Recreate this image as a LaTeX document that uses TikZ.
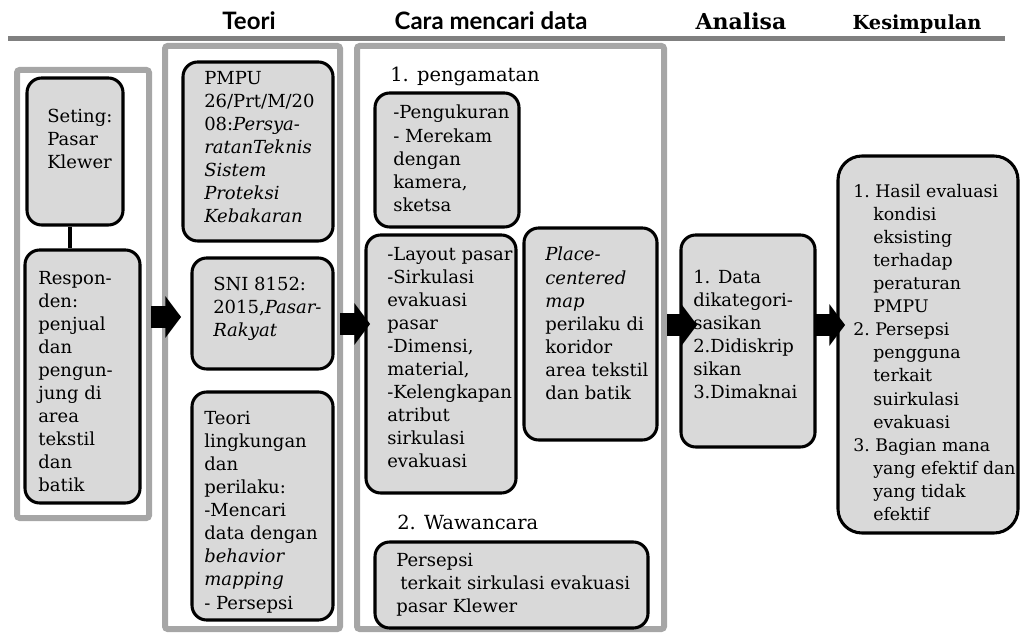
\documentclass[tikz,border=0pt]{standalone}
\usepackage{fontspec}
\setmainfont{DejaVu Serif}
\newfontfamily\headfont{Lato}
\usetikzlibrary{fit,shapes.arrows}

\definecolor{boxgray}{HTML}{D9D9D9}
\definecolor{panelgray}{HTML}{A6A6A6}
\definecolor{rulegray}{HTML}{808080}

\tikzset{
  panel/.style={draw=panelgray, line width=4.5pt, rounded corners=2pt, inner sep=0pt},
  box/.style={draw, fill=boxgray, line width=2.3pt, rounded corners=11pt, inner sep=0pt},
  txt/.style={anchor=north west, align=left, inner sep=0pt,
    font=\fontsize{13.5}{17.3}\selectfont},
  steptitle/.style={txt, font=\fontsize{14.6}{17.3}\selectfont},
  headsans/.style={anchor=base, inner sep=0pt, font=\headfont\bfseries\fontsize{18}{20}\selectfont},
  headserif/.style={anchor=base, inner sep=0pt, font=\bfseries\fontsize{#1}{20}\selectfont},
  bigarrow/.style={single arrow, fill=black, draw=none, inner xsep=0pt, inner ysep=7.9pt,
    minimum height=22.5pt, single arrow head extend=7.5pt, single arrow tip angle=106},
  link/.style={line width=2.3pt}
}

\newcommand{\ind}{\hspace*{15pt}}

\begin{document}
\begin{tikzpicture}[x=0.75pt, y=-0.75pt]
\useasboundingbox (0,0) rectangle (1021,634);

% headings
\node[headsans] (hTeori) at (249,30) {Teori};
\node[headsans] (hCara) at (491,30) {Cara mencari data};
\node[headserif=16.5] (hAnalisa) at (741,30) {Analisa};
\node[headserif=14.5] (hKesimpulan) at (917,30) {Kesimpulan};
\draw[rulegray, line width=3.75pt] (8,39) -- (1005,39);

% columns
\node[panel, fit={(17,70) (149,518)}] (colSeting) {};
\node[panel, fit={(165,46) (340,629)}] (colTeori) {};
\node[panel, fit={(357,46) (664,629)}] (colData) {};

% setting and respondents
\node[box, fit={(27,78) (123,225)}] (seting) {};
\node[box, fit={(25,250) (140,503)}] (respon) {};
\draw[link] ([xshift=-3.75pt]seting.south) -- ([xshift=-3.75pt]seting.south |- respon.north);
\node[txt] (tSeting) at (47,109) {Seting:\\Pasar\\Klewer};
\node[txt] (tRespon) at (38,271) {Respon-\\den:\\penjual\\dan\\pengun-\\jung di\\area\\tekstil\\dan\\batik};

% theory
\node[box, fit={(183,62) (333,241)}] (pmpu) {};
\node[box, fit={(192,258) (333,369)}] (sni) {};
\node[box, fit={(192,392) (333,620)}] (teori) {};
\node[txt] (tPmpu) at (204,71) {PMPU\\26/Prt/M/20\\08:\textit{Persya-}\\\textit{ratanTeknis}\\\textit{Sistem}\\\textit{Proteksi}\\\textit{Kebakaran}};
\node[txt] (tSni) at (213,277) {SNI 8152:\\2015,\textit{Pasar-}\\\textit{Rakyat}};
\node[txt] (tTeori) at (204,411) {Teori\\lingkungan\\dan\\perilaku:\\-Mencari\\data dengan\\\textit{behavior}\\\textit{mapping}\\- Persepsi};

% data collection
\node[steptitle] (tPengamatan) at (390,67) {1. pengamatan};
\node[box, fit={(375,93) (519,227)}] (ukur) {};
\node[box, fit={(366,235) (516,493)}] (layout) {};
\node[box, fit={(524,228) (657,440)}] (place) {};
\node[txt] (tUkur) at (393,105) {-Pengukuran\\- Merekam\\dengan\\kamera,\\sketsa};
\node[txt] (tLayout) at (387,247) {-Layout pasar\\-Sirkulasi\\evakuasi\\pasar\\-Dimensi,\\material,\\-Kelengkapan\\atribut\\sirkulasi\\evakuasi};
\node[txt] (tPlace) at (545,247) {\textit{Place-}\\\textit{centered}\\\textit{map}\\perilaku di\\koridor\\area tekstil\\dan batik};
\node[steptitle] (tWawancara) at (397,515) {2. Wawancara};
\node[box, fit={(375,542) (648,628)}] (persepsi) {};
\node[txt] (tPersepsi) at (396,553) {Persepsi\\\hspace{3pt}terkait sirkulasi evakuasi\\pasar Klewer};

% analysis and conclusion
\node[box, fit={(681,235) (815,447)}] (analisa) {};
\node[txt] (tAnalisa) at (693,270) {1. Data\\dikategori-\\sasikan\\2.Didiskrip\\sikan\\3.Dimaknai};
\node[box, rounded corners=18pt, fit={(838,156) (1018,533)}] (kesimpulan) {};
\node[txt, font=\fontsize{13}{17.3}\selectfont] (tKesimpulan) at (853,184) {1.\ Hasil evaluasi\\\ind kondisi\\\ind eksisting\\\ind terhadap\\\ind peraturan\\\ind PMPU\\2.\ Persepsi\\\ind pengguna\\\ind terkait\\\ind suirkulasi\\\ind evakuasi\\3.\ Bagian mana\\\ind yang efektif dan\\\ind yang tidak\\\ind efektif};

% block arrows
\node[bigarrow] (ar1) at (162,317) {};
\node[bigarrow] (ar2) at (351,324) {};
\node[bigarrow] (ar3) at (678,325) {};
\node[bigarrow] (ar4) at (826,325) {};
\end{tikzpicture}
\end{document}
